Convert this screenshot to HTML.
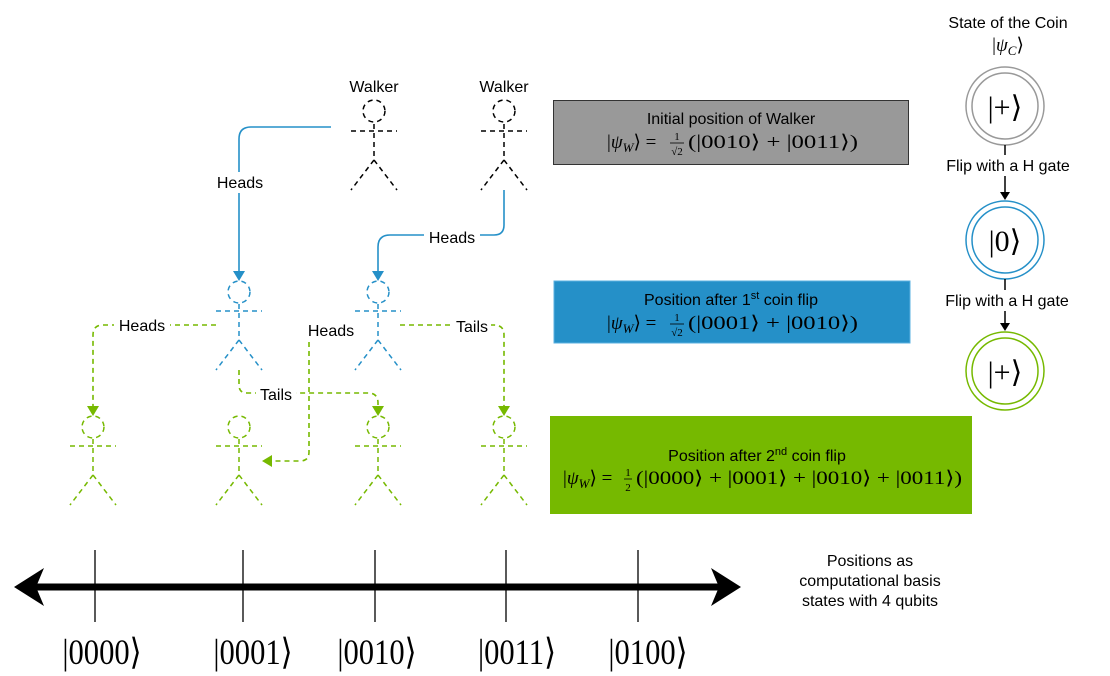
<!DOCTYPE html>
<html><head><meta charset="utf-8"><style>
body{margin:0;background:#fff;}
svg{display:block;font-family:"Liberation Sans","DejaVu Sans",sans-serif;}
.m{font-family:"Liberation Serif",serif;}
</style></head><body>
<svg width="1110" height="676" viewBox="0 0 1110 676" xmlns="http://www.w3.org/2000/svg">
<!-- stick figures -->
<g fill="none" stroke-width="1.5" stroke-dasharray="5,4">
<g stroke="#000">
 <circle cx="374" cy="111" r="11"/><path d="M351 131H397M374 124V160M374 160L351 190M374 160L397 190"/>
 <circle cx="504" cy="111" r="11"/><path d="M481 131H527M504 124V160M504 160L481 190M504 160L527 190"/>
</g>
<g stroke="#2590c8">
 <circle cx="239" cy="292" r="11"/><path d="M216 311H262M239 304V340M239 340L216 370M239 340L262 370"/>
 <circle cx="378" cy="292" r="11"/><path d="M355 311H401M378 304V340M378 340L355 370M378 340L401 370"/>
</g>
<g stroke="#76b900">
 <circle cx="93" cy="427" r="11"/><path d="M70 446H116M93 439V475M93 475L70 505M93 475L116 505"/>
 <circle cx="239" cy="427" r="11"/><path d="M216 446H262M239 439V475M239 475L216 505M239 475L262 505"/>
 <circle cx="378" cy="427" r="11"/><path d="M355 446H401M378 439V475M378 475L355 505M378 475L401 505"/>
 <circle cx="504" cy="427" r="11"/><path d="M481 446H527M504 439V475M504 475L481 505M504 475L527 505"/>
</g>
</g>
<!-- blue connectors -->
<g fill="none" stroke="#2590c8" stroke-width="1.6">
<path d="M331 127H251Q239 127 239 139V272"/>
<path d="M504 190V225Q504 235 494 235H390Q378 235 378 247V272"/>
</g>
<path d="M233 271H245L239 281Z M372 271H384L378 281Z" fill="#2590c8"/>
<!-- green connectors -->
<g fill="none" stroke="#76b900" stroke-width="1.6" stroke-dasharray="5,4">
<path d="M216 325H103Q93 325 93 335V407"/>
<path d="M239 370V385Q239 393 247 393H368Q378 393 378 403V407"/>
<path d="M309 342V452Q309 461 300 461H272"/>
<path d="M400 325H494Q504 325 504 335V407"/>
</g>
<path d="M87 406H99L93 416Z M372 406H384L378 416Z M498 406H510L504 416Z M272 455V467L262 461Z" fill="#76b900"/>
<!-- labels -->
<g font-size="16" text-anchor="middle" fill="#000">
<text x="374" y="92">Walker</text><text x="504" y="92">Walker</text>
<rect x="212" y="172" width="56" height="21" fill="#fff"/><text x="240" y="188">Heads</text>
<rect x="424" y="228" width="56" height="21" fill="#fff"/><text x="452" y="243">Heads</text>
<rect x="114" y="316" width="56" height="21" fill="#fff"/><text x="142" y="331">Heads</text>
<rect x="302" y="321" width="58" height="21" fill="#fff"/><text x="331" y="336">Heads</text>
<rect x="453" y="317" width="38" height="21" fill="#fff"/><text x="472" y="332">Tails</text>
<rect x="256" y="385" width="40" height="21" fill="#fff"/><text x="276" y="400">Tails</text>
</g>
<!-- boxes -->
<rect x="553.5" y="100.5" width="355" height="64" fill="#999" stroke="#333"/>
<rect x="554" y="281" width="356" height="62" fill="#2590c8" stroke="#5ab0e0"/>
<rect x="550" y="416" width="422" height="98" fill="#76b900"/>
<g fill="#000">
<text x="731" y="124" font-size="16" text-anchor="middle">Initial position of Walker</text>
<g class="m" font-size="19">
 <text x="607" y="148">|<tspan font-style="italic">ψ<tspan font-size="13" dy="4">W</tspan></tspan><tspan dy="-4">⟩ =</tspan></text>
 <text x="677" y="140" font-size="11" text-anchor="middle">1</text><path d="M670 143H684" stroke="#000" stroke-width="0.8"/><text x="677" y="155" font-size="11" text-anchor="middle">√2</text>
 <text x="688" y="148" textLength="170" lengthAdjust="spacingAndGlyphs">(|0010⟩ + |0011⟩)</text>
</g>
<text x="731" y="305" font-size="16" text-anchor="middle">Position after 1<tspan font-size="11" dy="-6">st</tspan><tspan dy="6"> coin flip</tspan></text>
<g class="m" font-size="19">
 <text x="607" y="329">|<tspan font-style="italic">ψ<tspan font-size="13" dy="4">W</tspan></tspan><tspan dy="-4">⟩ =</tspan></text>
 <text x="677" y="321" font-size="11" text-anchor="middle">1</text><path d="M670 324H684" stroke="#000" stroke-width="0.8"/><text x="677" y="336" font-size="11" text-anchor="middle">√2</text>
 <text x="688" y="329" textLength="170" lengthAdjust="spacingAndGlyphs">(|0001⟩ + |0010⟩)</text>
</g>
<text x="757" y="461" font-size="16" text-anchor="middle">Position after 2<tspan font-size="11" dy="-6">nd</tspan><tspan dy="6"> coin flip</tspan></text>
<g class="m" font-size="19">
 <text x="563" y="484">|<tspan font-style="italic">ψ<tspan font-size="13" dy="4">W</tspan></tspan><tspan dy="-4">⟩ =</tspan></text>
 <text x="628" y="476" font-size="11" text-anchor="middle">1</text><path d="M624 479H632" stroke="#000" stroke-width="0.8"/><text x="628" y="491" font-size="11" text-anchor="middle">2</text>
 <text x="636" y="484" textLength="326" lengthAdjust="spacingAndGlyphs">(|0000⟩ + |0001⟩ + |0010⟩ + |0011⟩)</text>
</g>
</g>
<!-- coin -->
<g text-anchor="middle" fill="#000">
<text x="1008" y="28" font-size="16">State of the Coin</text>
<text x="1008" y="51" font-size="19" class="m">|<tspan font-style="italic">ψ<tspan font-size="13" dy="4">C</tspan></tspan><tspan dy="-4">⟩</tspan></text>
</g>
<g fill="none" stroke-width="1.5">
<circle cx="1005" cy="106" r="39" stroke="#999"/><circle cx="1005" cy="106" r="33" stroke="#999"/>
<circle cx="1005" cy="240" r="39" stroke="#2590c8"/><circle cx="1005" cy="240" r="33" stroke="#2590c8"/>
<circle cx="1005" cy="371" r="39" stroke="#76b900"/><circle cx="1005" cy="371" r="33" stroke="#76b900"/>
<path d="M1005 145V192M1005 279V324" stroke="#000"/>
</g>
<path d="M1000 192H1010L1005 200Z M1000 323H1010L1005 331Z" fill="#000"/>
<g text-anchor="middle" fill="#000">
<rect x="930" y="155" width="156" height="21" fill="#fff"/><text x="1008" y="171" font-size="16">Flip with a H gate</text>
<rect x="930" y="290" width="156" height="21" fill="#fff"/><text x="1007" y="306" font-size="16">Flip with a H gate</text>
<text x="1005" y="117" font-size="30" class="m">|+⟩</text>
<text x="1005" y="251" font-size="30" class="m">|0⟩</text>
<text x="1005" y="382" font-size="30" class="m">|+⟩</text>
</g>
<!-- axis -->
<path d="M30 587H725" stroke="#000" stroke-width="7"/>
<path d="M14 587L44 568L36 587L44 606Z M741 587L711 568L719 587L711 606Z" fill="#000"/>
<g stroke="#000" stroke-width="1.3"><path d="M95 550V622M243 550V622M375 550V622M506 550V622M638 550V622"/></g>
<g font-size="36" class="m" text-anchor="middle" fill="#000">
<text x="102" y="664" transform="translate(102 0) scale(0.85 1) translate(-102 0)">|0000⟩</text>
<text x="253" y="664" transform="translate(253 0) scale(0.85 1) translate(-253 0)">|0001⟩</text>
<text x="377" y="664" transform="translate(377 0) scale(0.85 1) translate(-377 0)">|0010⟩</text>
<text x="517" y="664" transform="translate(517 0) scale(0.85 1) translate(-517 0)">|0011⟩</text>
<text x="648" y="664" transform="translate(648 0) scale(0.85 1) translate(-648 0)">|0100⟩</text>
</g>
<g font-size="16" text-anchor="middle" fill="#000">
<text x="870" y="566">Positions as</text>
<text x="870" y="586">computational basis</text>
<text x="870" y="606">states with 4 qubits</text>
</g>
</svg>
</body></html>
